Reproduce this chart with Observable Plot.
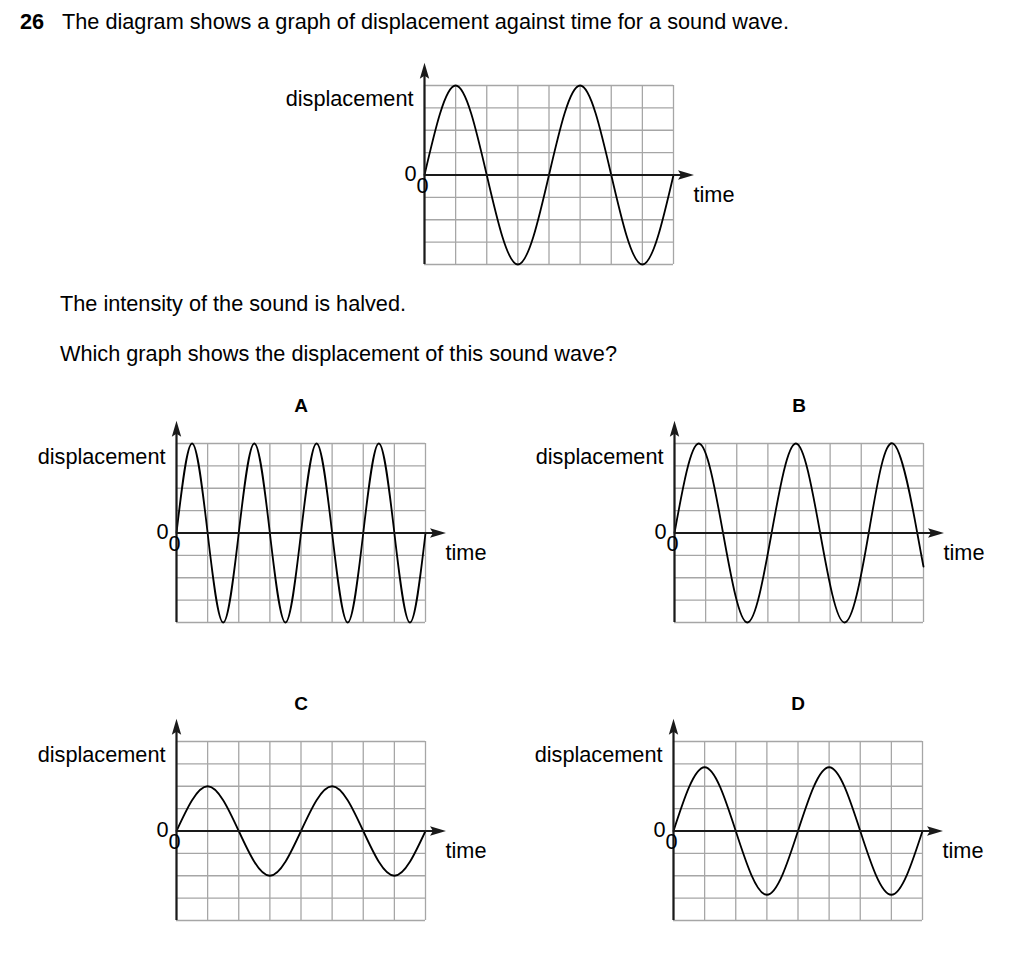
<!DOCTYPE html>
<html>
<head>
<meta charset="utf-8">
<script src="https://cdn.jsdelivr.net/npm/d3@7"></script>
<script src="https://cdn.jsdelivr.net/npm/@observablehq/plot@0.6"></script>
<style>
  html, body { margin: 0; padding: 0; background: #fff; }
  #page { position: relative; width: 1024px; height: 965px; overflow: hidden;
          font-family: "Liberation Sans", Arial, Helvetica, sans-serif; color: #000; }
  .txt { position: absolute; font-size: 21.7px; line-height: 1; white-space: nowrap; }
  .panel { position: absolute; }
</style>
</head>
<body>
<div id="page">
  <div class="txt" style="left:20px; top:11.4px; font-weight:bold;">26</div>
  <div class="txt" style="left:62px; top:11.4px;">The diagram shows a graph of displacement against time for a sound wave.</div>
  <div class="txt" style="left:60px; top:293.4px;">The intensity of the sound is halved.</div>
  <div class="txt" style="left:60px; top:343.4px;">Which graph shows the displacement of this sound wave?</div>
</div>
<script>
// ---- data (grid units: 8 time divisions, ±4 displacement divisions) ----
const gridTimes = [0, 1, 2, 3, 4, 5, 6, 7, 8];
const gridDisps = [-4, -3, -2, -1, 0, 1, 2, 3, 4];

const mainTime = [0, 1, 2, 3, 4, 5, 6, 7, 8];
const mainDisp = [0, 4, 0, -4, 0, 4, 0, -4, 0];

const aTime = [0, 0.5, 1, 1.5, 2, 2.5, 3, 3.5, 4, 4.5, 5, 5.5, 6, 6.5, 7, 7.5, 8];
const aDisp = [0, 4, 0, -4, 0, 4, 0, -4, 0, 4, 0, -4, 0, 4, 0, -4, 0];

const bTime = [0, 0.78, 1.56, 2.34, 3.12, 3.9, 4.68, 5.46, 6.24, 7.02, 7.8, 8];
const bDisp = [0, 4, 0, -4, 0, 4, 0, -4, 0, 4, 0, -1.5];

const cTime = [0, 1, 2, 3, 4, 5, 6, 7, 8];
const cDisp = [0, 2, 0, -2, 0, 2, 0, -2, 0];

const dTime = [0, 1, 2, 3, 4, 5, 6, 7, 8];
const dDisp = [0, 2.85, 0, -2.85, 0, 2.85, 0, -2.85, 0];

const panelLetters = ["", "A", "B", "C", "D"];
const yLabel = "displacement";
const xLabel = "time";
const originLabel = "0";

// ---- layout ----
const GRID_W = 249, GRID_H = 179;
const ML = 150, MR = 75, MT = 50, MB = 10;
const FS = 21.7;

const panels = [
  {time: mainTime, disp: mainDisp, letter: panelLetters[0], left: 424, top: 85},
  {time: aTime, disp: aDisp, letter: panelLetters[1], left: 176, top: 442.7},
  {time: bTime, disp: bDisp, letter: panelLetters[2], left: 674, top: 442.7},
  {time: cTime, disp: cDisp, letter: panelLetters[3], left: 176, top: 740.7},
  {time: dTime, disp: dDisp, letter: panelLetters[4], left: 673.3, top: 740.7}
];

const arrowUp = {
  draw(ctx) {
    ctx.moveTo(0, -8); ctx.lineTo(4.7, 8); ctx.lineTo(0, 5); ctx.lineTo(-4.7, 8); ctx.closePath();
  }
};
const arrowRight = {
  draw(ctx) {
    ctx.moveTo(8, 0); ctx.lineTo(-8, -4.7); ctx.lineTo(-5, 0); ctx.lineTo(-8, 4.7); ctx.closePath();
  }
};

const page = document.getElementById("page");
const xMin = d3.min(gridTimes), xMax = d3.max(gridTimes);
const yMin = d3.min(gridDisps), yMax = d3.max(gridDisps);

for (const p of panels) {
  const wave = p.time.map((t, i) => ({t, d: p.disp[i]}));
  const marks = [
    Plot.ruleX(gridTimes, {x: d => d, y1: yMax, y2: yMin, stroke: "#a6a6a6", strokeWidth: 1.3}),
    Plot.ruleY(gridDisps, {y: d => d, x1: xMin, x2: xMax, stroke: "#a6a6a6", strokeWidth: 1.3}),
    Plot.line(wave, {x: "t", y: "d", curve: "natural", stroke: "#000", strokeWidth: 1.8}),
    // axes
    Plot.ruleX([xMin], {x: d => d, y1: yMax, y2: yMin, insetTop: -14, stroke: "#1a1a1a", strokeWidth: 2.2}),
    Plot.ruleY([0], {y: d => d, x1: xMin, x2: xMax, insetRight: -13, stroke: "#1a1a1a", strokeWidth: 2.2}),
    Plot.dot([xMin], {x: d => d, y: yMax, dy: -14.7, symbol: arrowUp, fill: "#1a1a1a", stroke: "none"}),
    Plot.dot([0], {x: xMax, y: d => d, dx: 12.5, symbol: arrowRight, fill: "#1a1a1a", stroke: "none"}),
    // labels
    Plot.text([yLabel], {x: xMin, y: yMax, text: d => d, dx: -11, dy: 14, textAnchor: "end", lineAnchor: "middle", fontSize: FS, fill: "#000"}),
    Plot.text([originLabel], {x: xMin, y: 0, text: d => d, dx: -14, dy: -1, textAnchor: "middle", lineAnchor: "middle", fontSize: FS, fill: "#000"}),
    Plot.text([originLabel], {x: xMin, y: 0, text: d => d, dx: -2, dy: 11.5, textAnchor: "middle", lineAnchor: "middle", fontSize: FS, fill: "#000"}),
    Plot.text([xLabel], {x: xMax, y: 0, text: d => d, dx: 20, dy: 20, textAnchor: "start", lineAnchor: "middle", fontSize: FS, fill: "#000"})
  ];
  if (p.letter) {
    marks.push(Plot.text([p.letter], {x: (xMin + xMax) / 2, y: yMax, text: d => d, dy: -38, textAnchor: "middle", lineAnchor: "middle", fontSize: 19, fontWeight: "bold", fill: "#000"}));
  }
  const chart = Plot.plot({
    width: ML + GRID_W + MR,
    height: MT + GRID_H + MB,
    marginLeft: ML, marginRight: MR, marginTop: MT, marginBottom: MB,
    x: {domain: [xMin, xMax], axis: null},
    y: {domain: [yMin, yMax], axis: null},
    style: {fontFamily: "'Liberation Sans', Arial, Helvetica, sans-serif", fontSize: FS + "px", background: "transparent", overflow: "visible"},
    marks
  });
  const wrap = document.createElement("div");
  wrap.className = "panel";
  wrap.style.left = (p.left - ML) + "px";
  wrap.style.top = (p.top - MT) + "px";
  wrap.appendChild(chart);
  page.appendChild(wrap);
}
</script>
</body>
</html>
